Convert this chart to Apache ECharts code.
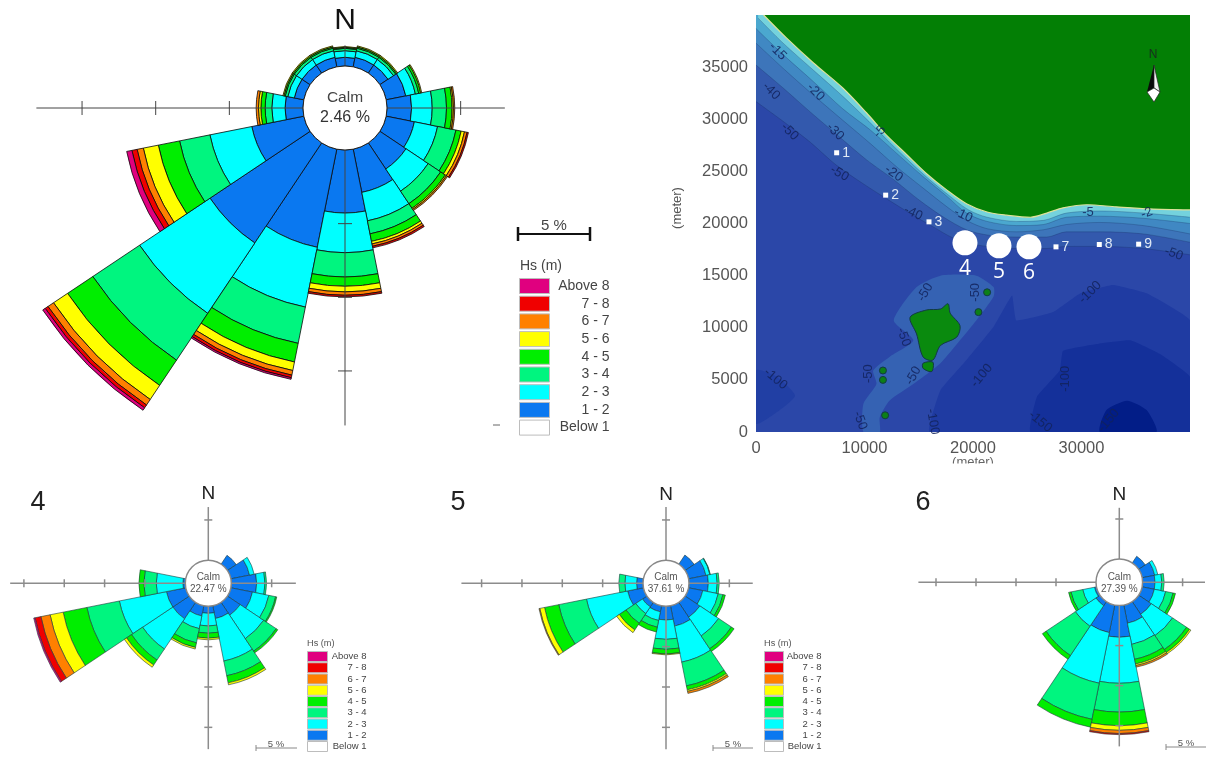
<!DOCTYPE html>
<html><head><meta charset="utf-8">
<style>html,body{margin:0;padding:0;background:#fff}#c{width:1208px;height:771px;filter:blur(.4px)}</style>
<script src="https://cdn.jsdelivr.net/npm/echarts@6/dist/echarts.min.js"></script>
</head><body><div id="c"></div>
<script>
// ---------- wave-rose data: % occurrence per direction (rows) and Hs class (columns) ----------
const directions = ['N','NNE','NE','ENE','E','ESE','SE','SSE','S','SSW','SW','WSW','W','WNW','NW','NNW'];
const hsClasses = ['1 - 2','2 - 3','3 - 4','4 - 5','5 - 6','6 - 7','7 - 8','Above 8'];
const legendNames = ['Above 8','7 - 8','6 - 7','5 - 6','4 - 5','3 - 4','2 - 3','1 - 2','Below 1'];
const roseMain = [
 [.59,.45,.16,.07,.05],[.66,.45,.18,.09,.07],[.66,.45,.18,.09,.07],[1.36,.66,.23,.14,.07],
 [1.67,1.40,.97,.38,.09,.09],[1.95,1.61,1.27,.36,.23,.18,.09],[2.13,1.81,1.02,.38,.09,.09],[2.99,1.97,.90,.52,.18,.16,.11],
 [4.28,2.69,1.65,.63,.38,.23,.11],[6.79,4.14,2.51,1.29,.59,.32,.18,.11],[8.17,5.75,3.82,2.06,1.15,.45,.23,.20],[3.60,2.90,2.10,1.47,1.04,.43,.36,.36],
 [1.22,.90,.45,.29,.16,.16],[.66,.45,.18,.09,.07],[.66,.45,.18,.09,.07],[.66,.45,.18,.09,.07]];
const rose4 = [
 [],[],[1.32],[2.36,.58],[3.14,1.03,.2],[2.73,2.07,.85,.15],[1.9,3.5,1.86,.25],[1.6,5.37,1.86,.9,.25],
 [.87,1.57,.9,.62,.2],[1.28,1.6,1.8,.58,.2],[2.44,4.5,1.65,.74,.33],[2.44,5.95,4.1,3.0,1.65,1.16,.74,.17],
 [.3,3.3,1.53,.62],[],[],[]];
const rose5 = [
 [],[],[1.36],[2.2,.5,.06],[2.4,1.1,.25],[1.8,1.95,.6,.3],[2.2,2.8,1.9,.4],[2.56,4.55,3.0,.5,.2,.25],
 [1.7,2.4,1.24,.58,.1],[.75,1.1,.85,.6],[.66,1.0,1.45,1.0,.4],[2,5.2,3.5,1.8,.6,.1],
 [.8,1.45,.75],[],[],[]];
const rose6 = [
 [],[],[1.0],[1.6,.4],[1.55,.85,.3],[1.55,1.45,.95,.3],[1.9,3.2,2.1,.45,.2],[2.3,2.7,1.9,.6,.2,.2],
 [3.96,5.75,3.6,1.7,.58,.4,.14],[3.5,6.45,4.6,1.0],[.6,3.1,4.4,.55],[.25,1.5,1.5,.3],
 [],[],[],[]];
const calmMain = '2.46 %', calm4 = '22.47 %', calm5 = '37.61 %', calm6 = '27.39 %';
// axis arm lengths in % (N,E,S,W)
const armsMain = [1.4,8,18.7,18.1], arms4 = [6.6,8,17.7,21.7], arms5 = [6.6,7.9,17.7,22.5], arms6 = [6.4,7.8,17.6,22.2];
const tickPct = [5,10,15,20];

// ---------- bathymetry map data: depth boundaries, metres ----------
const coastLine = [[700,40000],[2800,37800],[5300,35400],[8000,33000],[10200,30600],[12000,28500],[13900,26600],[15700,24800],[17600,23200],[19400,21900],[21300,21100],[23100,20800],[25300,20600],[26800,21000],[28300,21500],[30500,21800],[33200,21600],[36300,21400],[40000,21300]];
const depth5 = [[200,39700],[2500,37300],[5300,34700],[8000,32200],[10400,29800],[12300,27800],[14200,25900],[16000,24200],[17900,22600],[19600,21300],[21300,20600],[24000,20200],[26500,20300],[28600,21000],[31700,21200],[35700,21000],[40000,20600]];
const depth15 = [[0,38700],[2500,36200],[5300,33600],[8000,31000],[10500,29000],[13000,26700],[15400,24500],[17600,22600],[19400,21000],[21300,20200],[24000,19800],[26500,19900],[28600,20600],[31700,20700],[35700,20500],[40000,20000]];
const depth30 = [[0,37300],[2800,34600],[5300,32300],[8000,29900],[10500,27700],[13000,25400],[15400,23400],[17600,21600],[19400,20300],[21300,19500],[24000,19200],[26500,19400],[28600,19900],[31700,20100],[35700,19800],[40000,19000]];
const depth40 = [[0,35200],[2500,33000],[5000,30700],[7700,28300],[10200,26100],[12700,24200],[15100,22200],[17300,20600],[19400,19400],[21300,18900],[24000,18700],[26800,18700],[28600,19200],[31700,19200],[35700,19000],[40000,18200]];
const depth50 = [[0,31700],[2500,29800],[5000,27800],[7400,25600],[9900,23800],[12300,22200],[14800,20600],[16300,19700],[18200,18600],[20600,17900],[24000,17600],[26800,17600],[28600,17800],[31700,17800],[35700,17600],[40000,17000]];
const zone100 = [[16000,0],[17000,4000],[19400,6900],[21900,10100],[23600,13100],[24000,10700],[27400,11500],[29900,13300],[32900,14100],[36000,13300],[40000,10700],[40000,0]];
const zone150 = [[25300,0],[25900,3400],[28000,5900],[28300,7800],[31700,8500],[34500,8800],[37200,7500],[40000,5300],[40000,0]];
const zone200 = [[31700,0],[32300,2100],[34200,3000],[36000,2100],[36900,0]];
const zoneWest = [[0,5900],[1900,5300],[3600,3500],[2200,2100],[0,800]];
const shelf = [[9900,0],[9900,2700],[11100,4600],[10800,5900],[12300,7200],[14500,8800],[12700,10700],[14800,13900],[17000,15000],[20300,15000],[21900,13900],[21900,13000],[20300,10700],[18800,8800],[17000,6600],[14500,4600],[12300,3000],[11400,1400],[11400,0]];
const mainIsland = [[14200,11000],[15700,11700],[17000,11800],[17700,12300],[17900,11400],[18800,10200],[18500,9100],[17000,8300],[16300,6900],[15400,7200],[14800,9400]];
const southIslet = [[15400,6600],[16300,6700],[16200,5800],[15400,6100]];
const smallIslands = [[21300,13400],[20500,11500],[11700,5900],[11700,5000],[11900,1600]];
const stations = [[7434,26784,'1'],[11950,22720,'2'],[15944,20160,'3'],[27648,17760,'7'],[31642,17984,'8'],[35267,18016,'9']];
const keyStations = [[19261,18144,'4'],[22395,17856,'5'],[25160,17760,'6']];
const contourLabels = [[2000,36500,'-15',-45],[1400,32700,'-40',-45],[5500,32600,'-20',-45],[7300,28800,'-30',-45],[3100,28800,'-50',-45],[11400,28800,'-5',45],[7700,24800,'-50',-30],[12700,24800,'-20',-35],[14500,21000,'-40',-25],[19100,20800,'-10',-25],[30600,21100,'-5',0],[36000,21000,'-2',20],[38500,17100,'-50',-20],[30800,13400,'-100',45],[15600,13400,'-50',60],[20200,13400,'-50',90],[13600,9100,'-50',-70],[10400,5600,'-50',90],[14500,5400,'-50',60],[1800,5100,'-100',-40],[20800,5400,'-100',50],[28500,5100,'-100',90],[16300,1000,'-100',-80],[9600,1100,'-50',-70],[26200,1000,'-150',-40],[32500,1100,'-150',50]];

// ---------- styling ----------
const FONT = '"Liberation Sans", Arial, sans-serif';
const classColors = {'1 - 2':'#0a78f0','2 - 3':'#00ffff','3 - 4':'#00f57f','4 - 5':'#00ee00','5 - 6':'#ffff00','6 - 7':'#ff8000','7 - 8':'#f00000','Above 8':'#e0007f','Below 1':'#ffffff'};
const roses = [
 {table:roseMain, arms:armsMain, cx:345, cy:108, inner:42, k:14.73, tickHalf:7, axisC:'#444', axisW:1, ring:'#222', ringW:1, border:'#0a0a0a', bw:.8},
 {table:rose4, arms:arms4, cx:208.3, cy:583.3, inner:23, k:8.07, tickHalf:4, axisC:'#8c8c8c', axisW:1.5, ring:'#888', ringW:1.5, border:'#1c3a3a', bw:.6},
 {table:rose5, arms:arms5, cx:666, cy:583.3, inner:23, k:8.07, tickHalf:4, axisC:'#8c8c8c', axisW:1.5, ring:'#888', ringW:1.5, border:'#1c3a3a', bw:.6},
 {table:rose6, arms:arms6, cx:1119.3, cy:582.3, inner:23.3, k:8.0, tickHalf:4, axisC:'#8c8c8c', axisW:1.5, ring:'#888', ringW:1.5, border:'#1c3a3a', bw:.6}
];
const MAXV = 25;
const polar=[], angleAxis=[], radiusAxis=[], series=[];
roses.forEach((r,i)=>{
  polar.push({center:[r.cx,r.cy], radius:[r.inner, r.inner + r.k*MAXV]});
  angleAxis.push({polarIndex:i, type:'category', data:directions, startAngle:101.25, clockwise:true, show:false});
  radiusAxis.push({polarIndex:i, type:'value', min:0, max:MAXV, show:false});
  hsClasses.forEach((h,c)=>{
    series.push({type:'bar', name:h, coordinateSystem:'polar', polarIndex:i, stack:'rose'+i, barCategoryGap:'0%',
      silent:true, animation:false, z:2,
      data:r.table.map(row=> row[c]==null ? null : row[c]),
      itemStyle:{color:classColors[h], borderColor:r.border, borderWidth:r.bw}});
  });
  if(i===0) series.push({type:'bar', name:'Below 1', coordinateSystem:'polar', polarIndex:0, stack:'rose0', barCategoryGap:'0%', silent:true, animation:false, data:[], itemStyle:{color:classColors['Below 1']}});
  series.push({type:'custom', coordinateSystem:'polar', polarIndex:i, silent:true, animation:false, z:4, encode:{radius:0,angle:1},
    data:r.arms.map((v,a)=>[v,a*4]),
    renderItem(params,api){
      const a=params.dataIndex, dir=a*4, len=r.arms[a];
      const s=api.coord([0,dir]), e=api.coord([len,dir]);
      const d=Math.hypot(e[0]-s[0],e[1]-s[1]), ux=(e[0]-s[0])/d, uy=(e[1]-s[1])/d;
      const st={stroke:r.axisC,lineWidth:r.axisW,fill:null};
      const ch=[{type:'line',shape:{x1:s[0],y1:s[1],x2:e[0],y2:e[1]},style:st}];
      tickPct.filter(t=>t<len).forEach(t=>{
        const p=api.coord([t,dir]);
        ch.push({type:'line',shape:{x1:p[0]-uy*r.tickHalf,y1:p[1]+ux*r.tickHalf,x2:p[0]+uy*r.tickHalf,y2:p[1]-ux*r.tickHalf},style:st});
      });
      if(a===0) ch.push({type:'circle',shape:{cx:r.cx,cy:r.cy,r:r.inner},style:{stroke:r.ring,lineWidth:r.ringW,fill:'#fff'}});
      return {type:'group',children:ch};
    }});
});

// ---------- map series (grid 0) ----------
function bandLine(pts,color){
  return {type:'line',xAxisIndex:0,yAxisIndex:0,data:pts,smooth:.3,showSymbol:false,symbol:'none',silent:true,animation:false,z:2,
    lineStyle:{width:.6,color:'rgba(20,40,90,.45)'},areaStyle:{origin:'end',color:color,opacity:1}};
}
function polyPart(pts,color,stroke,api,smooth){
  return {type:'polygon',shape:{points:pts.map(p=>api.coord(p)),smooth:smooth},style:{fill:color,stroke:stroke||null,lineWidth:stroke?1:0}};
}
series.push({type:'custom',xAxisIndex:0,yAxisIndex:0,coordinateSystem:'cartesian2d',silent:true,animation:false,clip:true,z:1,data:[[0,0]],
  renderItem(p,api){return {type:'group',children:[
    polyPart(zone100,'#1f3ba2',null,api,.1),
    polyPart(zone150,'#14309a',null,api,.1),
    polyPart(zone200,'#021d87',null,api,.2),
    polyPart(zoneWest,'#213fa4',null,api,.2),
    polyPart(shelf,'#3562b3',null,api,.2)
  ]};}});
series.push(bandLine(depth50,'#3359ad'),bandLine(depth40,'#3d75ba'),bandLine(depth30,'#4088c3'),bandLine(depth15,'#4ba8cf'),bandLine(depth5,'#74d2dd'));
series.push({type:'line',xAxisIndex:0,yAxisIndex:0,data:coastLine,smooth:.3,showSymbol:false,symbol:'none',silent:true,animation:false,z:3,
  lineStyle:{width:1.2,color:'#dfe29a'},areaStyle:{origin:'end',color:'#037f05',opacity:1}});
series.push({type:'custom',xAxisIndex:0,yAxisIndex:0,coordinateSystem:'cartesian2d',silent:true,animation:false,clip:true,z:4,data:[[0,0]],
  renderItem(p,api){return {type:'group',children:[
    polyPart(mainIsland,'#0a8a0e','#123a45',api,.3),
    polyPart(southIslet,'#0a8a0e','#123a45',api,.3)
  ]};}});
series.push({type:'scatter',xAxisIndex:0,yAxisIndex:0,silent:true,animation:false,z:4,symbolSize:7,data:smallIslands,
  itemStyle:{color:'#0c7f18',opacity:1,borderColor:'#123a45',borderWidth:1}});
series.push({type:'scatter',xAxisIndex:0,yAxisIndex:0,silent:true,animation:false,z:5,symbol:'circle',symbolSize:1,itemStyle:{color:'rgba(0,0,0,0)',opacity:1},
  data:contourLabels.map(c=>({value:[c[0],c[1]],label:{show:true,formatter:c[2],rotate:c[3],position:'inside',color:'rgba(18,34,90,.85)',fontSize:13,fontFamily:FONT}}))});
series.push({type:'scatter',xAxisIndex:0,yAxisIndex:0,silent:true,animation:false,z:6,symbol:'rect',symbolSize:5,itemStyle:{color:'#fff',opacity:1},
  data:stations.map(s=>({value:[s[0],s[1]],label:{show:true,formatter:s[2],position:'right',distance:3,color:'#dfe9f5',fontSize:14,fontFamily:FONT}}))});
series.push({type:'scatter',xAxisIndex:0,yAxisIndex:0,silent:true,animation:false,z:6,symbol:'circle',symbolSize:25,itemStyle:{color:'#fff',opacity:1},
  data:keyStations.map(s=>({value:[s[0],s[1]],label:{show:true,formatter:s[2],position:'inside',offset:[0,26],color:'#fff',fontSize:21,fontFamily:'"Open Sans", sans-serif'}}))});

// ---------- legends ----------
function legend(left,top,w,h,gap,fs,tw){
  return {left:left,top:top,orient:'vertical',icon:'rect',itemWidth:w,itemHeight:h,itemGap:gap,padding:0,selectedMode:false,data:legendNames,
    itemStyle:{borderColor:'#bdbdbd',borderWidth:1},
    formatter:n=>'{r|'+n+'}',
    textStyle:{rich:{r:{width:tw,align:'right',fontSize:fs,color:'#444',fontFamily:FONT,lineHeight:h}}}};
}
const legends=[legend(519,278,30,15,1.7,14,55),legend(307,651,20,10,.25,9.5,34),legend(764,651,19,10,.25,9.5,33)];

// ---------- decoration text ----------
function txt(x,y,t,size,color,align,rot){
  return {type:'text',x:x,y:y,rotation:rot||0,z:20,silent:true,style:{x:0,y:0,text:t,font:size+'px '+FONT,fill:color||'#222',textAlign:align||'center',textVerticalAlign:'middle',verticalAlign:'middle'}};
}
function seg(x1,y1,x2,y2,c,w){return {type:'line',z:20,silent:true,shape:{x1,y1,x2,y2},style:{stroke:c,lineWidth:w}};}
function poly(pts,fill,stroke){return {type:'polygon',z:20,silent:true,shape:{points:pts},style:{fill:fill,stroke:stroke||null,lineWidth:stroke?.7:0}};}
const graphics=[
 txt(345,21,'N',30,'#111'),
 txt(345,98,'Calm',15.5,'#444'),txt(345,118,calmMain,16,'#333'),
 txt(38,503,'4',27,'#222'),txt(458,503,'5',27,'#222'),txt(923,503,'6',27,'#222'),
 txt(208.3,494,'N',19,'#222'),txt(666,495,'N',19,'#222'),txt(1119.3,495,'N',19,'#222'),
 txt(208.3,577,'Calm',10,'#555'),txt(208.3,589,calm4,10,'#555'),
 txt(666,577,'Calm',10,'#555'),txt(666,589,calm5,10,'#555'),
 txt(1119.3,577,'Calm',10,'#555'),txt(1119.3,589,calm6,10,'#555'),
 // scale bars
 seg(518,234,590,234,'#111',2),seg(518,227,518,241,'#111',2.5),seg(590,227,590,241,'#111',2.5),txt(554,226,'5 %',15,'#444'),
 txt(520,266,'Hs (m)',14,'#444','left'),
 seg(256,748,297,748,'#888',1),seg(256,745,256,751,'#888',1),txt(276,744,'5 %',9.5,'#555'),
 seg(713,748,753,748,'#888',1),seg(713,745,713,751,'#888',1),txt(733,744,'5 %',9.5,'#555'),
 seg(1166,747,1206,747,'#888',1),seg(1166,744,1166,750,'#888',1),txt(1186,743,'5 %',9.5,'#555'),
 txt(307,643,'Hs (m)',9.2,'#555','left'),txt(764,643,'Hs (m)',9.2,'#555','left'),
 seg(493,425,500,425,'#666',1),
 // map axis names
 txt(677,208,'(meter)',13,'#555','center',Math.PI/2),
 txt(973,462,'(meter)',13,'#666'),
 {type:'rect',z:21,silent:true,shape:{x:945,y:463.5,width:60,height:10},style:{fill:'#fff'}},
 // north arrow
 txt(1153,55,'N',12,'#1a2a20'),
 poly([[1154,65],[1147,92],[1154,88]],'#0a0a0a'),
 poly([[1154,65],[1160,92],[1154,88]],'#f2f2f2','#222'),
 poly([[1147,92],[1154,88],[1160,92],[1154,102]],'#ffffff','#222')
];

const chart=echarts.init(document.getElementById('c'),null,{renderer:'canvas'});
chart.setOption({
  animation:false, backgroundColor:'#fff', tooltip:{show:false},
  polar, angleAxis, radiusAxis, legend:legends,
  grid:{left:756,right:18,top:15,bottom:339,show:true,backgroundColor:'#2b47a8',borderWidth:0,containLabel:false},
  xAxis:{type:'value',min:0,max:40000,interval:10000,axisLine:{show:false},axisTick:{show:false},splitLine:{show:false},
    axisLabel:{margin:8,fontSize:16.5,color:'#555',fontFamily:FONT,formatter:v=>v===40000?'':String(v)}},
  yAxis:{type:'value',min:0,max:40000,interval:5000,axisLine:{show:false},axisTick:{show:false},splitLine:{show:false},
    axisLabel:{margin:8,fontSize:16.5,color:'#555',fontFamily:FONT,formatter:v=>v===40000?'':String(v)}},
  series, graphic:{elements:graphics}
});
</script></body></html>
